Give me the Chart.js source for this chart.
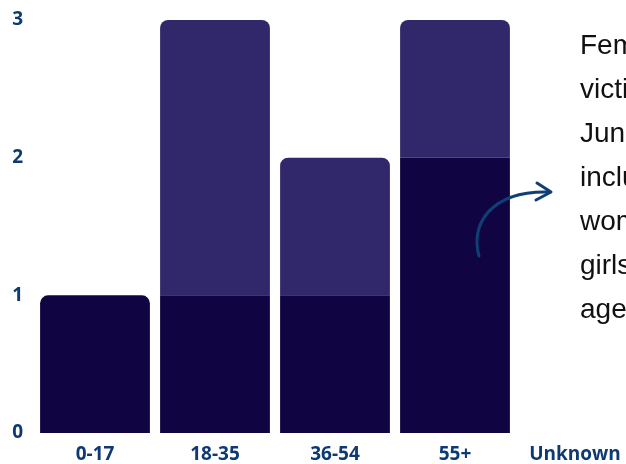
<!DOCTYPE html>
<html>
<head>
<meta charset="utf-8">
<script src="https://cdn.jsdelivr.net/npm/chart.js@4.4.1/dist/chart.umd.min.js"></script>
<style>
  html, body { margin: 0; padding: 0; background: #fff; }
  body { width: 626px; height: 464px; overflow: hidden; position: relative; }
  #wrap { position: absolute; left: 0; top: 0; width: 640px; height: 464px; }
  #note {
    position: absolute; left: 580px; top: 23px;
    font: 28px "Liberation Sans", Arial, sans-serif;
    line-height: 44px; color: #111; white-space: nowrap;
  }
</style>
</head>
<body>
<div id="wrap"><canvas id="myChart" width="640" height="464"></canvas></div>
<div id="note">Femicide<br>victims in<br>June<br>included<br>women and<br>girls of all<br>ages</div>
<script>
// age groups and counts
const ageGroups = ["0-17", "18-35", "36-54", "55+", "Unknown"];
const lowerCounts = [1, 1, 1, 2, 0];
const upperCounts = [0, 2, 1, 1, 0];
const yTicks = [0, 1, 2, 3];

const labelColor = "#0e3a73";

// curved arrow pointing at the note
const arrowPlugin = {
  id: "custom_arrow",
  afterDraw(chart) {
    const { ctx } = chart;
    ctx.save();
    ctx.strokeStyle = "#0f3f75";
    ctx.lineWidth = 3;
    ctx.lineCap = "round";
    ctx.lineJoin = "round";
    ctx.beginPath();
    ctx.moveTo(479, 256);
    ctx.bezierCurveTo(470, 225, 490, 190, 550, 192);
    ctx.stroke();
    ctx.beginPath();
    ctx.moveTo(537, 183);
    ctx.lineTo(551, 192);
    ctx.lineTo(536, 200);
    ctx.stroke();
    ctx.restore();
  },
};

new Chart(document.getElementById("myChart"), {
  type: "bar",
  data: {
    labels: ageGroups,
    datasets: [
      {
        label: "Lower",
        data: lowerCounts,
        backgroundColor: "#110442",
        borderRadius: 8,
        barPercentage: 0.915,
        categoryPercentage: 1,
      },
      {
        label: "Upper",
        data: upperCounts,
        backgroundColor: "#30286a",
        borderRadius: 8,
        barPercentage: 0.915,
        categoryPercentage: 1,
      },
    ],
  },
  options: {
    responsive: false,
    animation: false,
    layout: { padding: { top: 20, right: 5, left: 0, bottom: 0 } },
    plugins: {
      legend: { display: false },
      tooltip: { enabled: false },
    },
    scales: {
      x: {
        stacked: true,
        grid: { display: false, drawTicks: false },
        border: { display: false },
        ticks: {
          color: labelColor,
          padding: 10,
          font: { family: "Open Sans", size: 19, weight: "bold" },
        },
        afterFit(scale) { scale.height = 31; },
      },
      y: {
        stacked: true,
        min: 0,
        max: 3,
        grid: { display: false, drawTicks: false },
        border: { display: false },
        afterBuildTicks(scale) { scale.ticks = yTicks.map((v) => ({ value: v })); },
        ticks: {
          color: labelColor,
          padding: 12,
          font: { family: "Open Sans", size: 19, weight: "bold" },
        },
        afterFit(scale) {
          scale.width = 35;
          scale.paddingTop = 0;
          scale.paddingBottom = 0;
        },
      },
    },
  },
  plugins: [arrowPlugin],
});
</script>
</body>
</html>
